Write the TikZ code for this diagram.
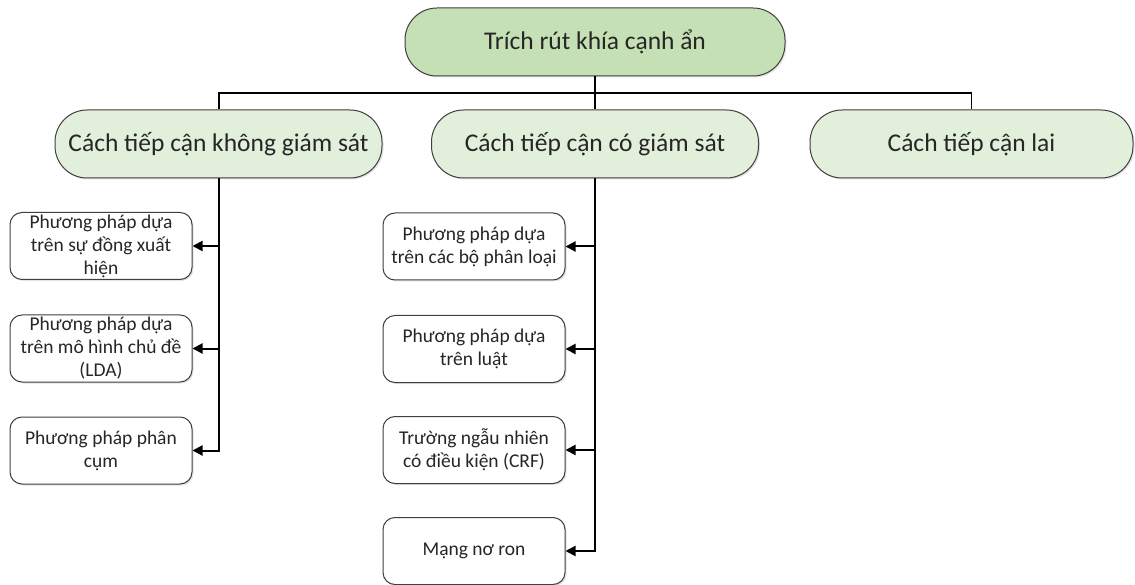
\documentclass[tikz,border=0pt]{standalone}
\usepackage{fontspec}
\setmainfont{Carlito}
\usetikzlibrary{arrows.meta,shadows}
\definecolor{rootfill}{HTML}{C5E0B4}
\definecolor{catfill}{HTML}{E2EFDA}
\definecolor{edgegray}{HTML}{3F3F3F}
\definecolor{inkgray}{HTML}{262626}
\begin{document}
\begin{tikzpicture}[x=1pt,y=-1pt,
  softshadow/.style={drop shadow={opacity=0.22,shadow xshift=1.5pt,shadow yshift=-1.5pt}},
  rootbox/.style={draw=edgegray,line width=1pt,fill=rootfill,rounded corners=32pt,
    minimum width=380pt,minimum height=68pt,text=inkgray,
    font=\fontsize{25.5}{30}\selectfont,softshadow},
  catbox/.style={draw=edgegray,line width=1pt,fill=catfill,rounded corners=32pt,
    minimum width=327pt,minimum height=68pt,text=inkgray,
    font=\fontsize{25.5}{30}\selectfont,softshadow},
  leafbox/.style={draw=edgegray,line width=1pt,fill=white,rounded corners=12pt,
    minimum width=182pt,minimum height=67pt,inner sep=0pt,align=center,text=inkgray,
    font=\fontsize{19.5}{23}\selectfont,softshadow},
  link/.style={draw=black,line width=2pt},
  tolink/.style={link,-{Triangle[length=10pt,width=10pt]}}]
\useasboundingbox (0,0) rectangle (1135,585);

% root and the three approaches
\node[rootbox] (root) at (595,42) {Trích rút khía cạnh ẩn};
\node[catbox] (unsup) at (218.5,144) {Cách tiếp cận không giám sát};
\node[catbox] (sup) at (595,144) {Cách tiếp cận có giám sát};
\node[catbox,minimum width=323pt] (hyb) at (971.5,144) {Cách tiếp cận lai};

% unsupervised methods
\node[leafbox] (u1) at (101,246) {Phương pháp dựa\\trên sự đồng xuất\\hiện};
\node[leafbox] (u2) at (101,348.5) {Phương pháp dựa\\trên mô hình chủ đề\\(LDA)};
\node[leafbox] (u3) at (101,450.5) {Phương pháp phân\\cụm};

% supervised methods
\node[leafbox] (s1) at (474,246.5) {Phương pháp dựa\\trên các bộ phân loại};
\node[leafbox] (s2) at (474,349) {Phương pháp dựa\\trên luật};
\node[leafbox] (s3) at (474,450) {Trường ngẫu nhiên\\có điều kiện (CRF)};
\node[leafbox] (s4) at (474,551) {Mạng nơ ron};

% bus from the root to the approaches
\coordinate (bus) at (595,93);
\draw[link] (root.south) -- (sup.north);
\draw[link] (unsup.north) |- (bus);
\draw[draw=black,line width=1.5pt] (bus) -| (hyb.north);

% unsupervised branch
\draw[tolink] (unsup.south) |- (u3.east);
\draw[tolink] (unsup.south |- u1.east) -- (u1.east);
\draw[tolink] (unsup.south |- u2.east) -- (u2.east);

% supervised branch
\draw[tolink] (sup.south) |- (s4.east);
\draw[tolink] (sup.south |- s1.east) -- (s1.east);
\draw[tolink] (sup.south |- s2.east) -- (s2.east);
\draw[tolink] (sup.south |- s3.east) -- (s3.east);
\end{tikzpicture}
\end{document}
